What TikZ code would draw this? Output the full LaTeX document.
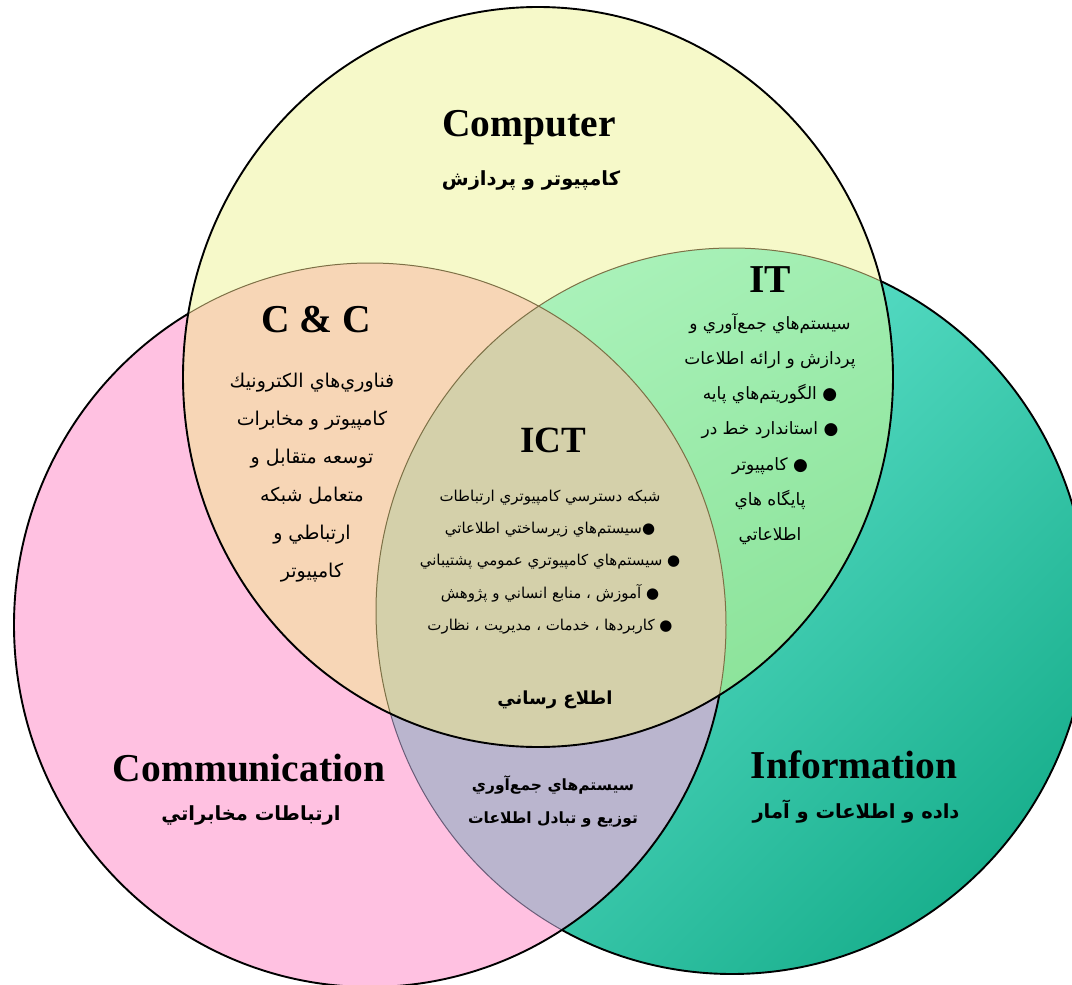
\documentclass[tikz,border=0pt]{standalone}
\usepackage{fontspec}
\setmainfont{Liberation Serif}
\newfontfamily\farsi[Script=Arabic]{DejaVu Sans}
\TeXXeTstate=1
\definecolor{CompClr}{RGB}{246,249,201}
\definecolor{CommClr}{RGB}{255,193,225}
\definecolor{InfoLight}{RGB}{108,236,216}
\definecolor{InfoDark}{RGB}{26,176,142}
\definecolor{CCClr}{RGB}{247,214,182}
\definecolor{ITLight}{RGB}{172,243,188}
\definecolor{ITDark}{RGB}{138,226,152}
\definecolor{ICTClr}{RGB}{212,208,170}
\definecolor{LowClr}{RGB}{186,181,206}
\definecolor{MidEdge}{RGB}{125,112,70}
\definecolor{LowEdge}{RGB}{105,92,120}
\newcommand\faline[1]{\beginR#1\endR}

\begin{document}
\begin{tikzpicture}[x=1pt,y=-1pt,
  edge/.style={line width=1.9pt,draw=black},
  inner edge/.style={line width=1pt},
  head/.style={font=\bfseries\fontsize{39.5}{44}\selectfont,inner sep=0pt},
  sub/.style={font=\farsi\bfseries\fontsize{19.5}{24}\selectfont,inner sep=0pt},
  body/.style={font=\farsi\fontsize{19}{38}\selectfont,align=center,inner sep=0pt}]

\useasboundingbox (0,0) rectangle (1072,985);
\fill[white] (0,0) rectangle (1072,985);
\clip (0,0) rectangle (1072,985);

\coordinate (Comp) at (538,377);
\coordinate (Comm) at (370,625);
\coordinate (Info) at (732,611);

% information
\shade[top color=InfoLight,bottom color=InfoDark,shading angle=45] (Info) ellipse [x radius=356pt,y radius=363pt];
\draw[edge] (Info) ellipse [x radius=356pt,y radius=363pt];

% communication
\fill[CommClr] (Comm) ellipse [x radius=356pt,y radius=362pt];
\begin{scope}
  \clip (Info) ellipse [x radius=356pt,y radius=363pt];
  \fill[LowClr] (Comm) ellipse [x radius=356pt,y radius=362pt];
\end{scope}
\begin{scope}
  \clip (Comm) ellipse [x radius=356pt,y radius=362pt];
  \draw[inner edge,draw=LowEdge] (Info) ellipse [x radius=356pt,y radius=363pt];
\end{scope}
\draw[edge] (Comm) ellipse [x radius=356pt,y radius=362pt];

% computer
\fill[CompClr] (Comp) ellipse [x radius=355pt,y radius=370pt];
\begin{scope}
  \clip (Comm) ellipse [x radius=356pt,y radius=362pt];
  \fill[CCClr] (Comp) ellipse [x radius=355pt,y radius=370pt];
\end{scope}
\begin{scope}
  \clip (Info) ellipse [x radius=356pt,y radius=363pt];
  \clip (Comp) ellipse [x radius=355pt,y radius=370pt];
  \shade[top color=ITLight,bottom color=ITDark,shading angle=30] (370,240) rectangle (900,750);
\end{scope}
\begin{scope}
  \clip (Comm) ellipse [x radius=356pt,y radius=362pt];
  \clip (Info) ellipse [x radius=356pt,y radius=363pt];
  \fill[ICTClr] (Comp) ellipse [x radius=355pt,y radius=370pt];
\end{scope}
\begin{scope}
  \clip (Comp) ellipse [x radius=355pt,y radius=370pt];
  \draw[inner edge,draw=MidEdge] (Comm) ellipse [x radius=356pt,y radius=362pt];
  \draw[inner edge,draw=MidEdge] (Info) ellipse [x radius=356pt,y radius=363pt];
\end{scope}
\draw[edge] (Comp) ellipse [x radius=355pt,y radius=370pt];

% labels
\node[head] (compT) at (529,128) {Computer};
\node[sub] (compS) at (531,180) {\faline{كامپيوتر و پردازش}};

\node[head] (ccT) at (316,320) {C \& C};
\node[body] (ccB) at (312,478) {\faline{فناوري‌هاي الكترونيك}\\\faline{كامپيوتر و مخابرات}\\\faline{توسعه متقابل و}\\\faline{متعامل شبكه}\\\faline{ارتباطي و}\\\faline{كامپيوتر}};

\node[head] (itT) at (770,280) {IT};
\node[body,font=\farsi\fontsize{17}{35.3}\selectfont] (itB) at (770,429) {\faline{سيستم‌هاي جمع‌آوري و}\\\faline{پردازش و ارائه اطلاعات}\\\faline{● الگوريتم‌هاي پايه}\\\faline{● استاندارد خط در}\\\faline{● كامپيوتر}\\\faline{پايگاه هاي}\\\faline{اطلاعاتي}};

\node[head,font=\bfseries\fontsize{37}{42}\selectfont] (ictT) at (553,440) {ICT};
\node[body,font=\farsi\fontsize{15}{32.3}\selectfont] (ictB) at (550,562) {\faline{شبكه دسترسي كامپيوتري ارتباطات}\\\faline{●سيستم‌هاي زيرساختي  اطلاعاتي}\\\faline{● سيستم‌هاي كامپيوتري عمومي پشتيباني}\\\faline{● آموزش ، منابع انساني و پژوهش}\\\faline{● كاربردها ، خدمات ، مديريت ، نظارت}};

\node[sub,font=\farsi\bfseries\fontsize{18}{22}\selectfont] (ictS) at (555,700) {\faline{اطلاع رساني}};

\node[sub,align=center,font=\farsi\bfseries\fontsize{15.5}{33}\selectfont] (lowB) at (553,801) {\faline{سيستم‌هاي جمع‌آوري}\\\faline{توزيع  و تبادل اطلاعات}};

\node[head] (commT) at (249,768) {Communication};
\node[sub] (commS) at (251,815) {\faline{ارتباطات مخابراتي}};

\node[head] (infoT) at (854,765) {Information};
\node[sub] (infoS) at (856,812) {\faline{داده و اطلاعات و آمار}};
\end{tikzpicture}
\end{document}
